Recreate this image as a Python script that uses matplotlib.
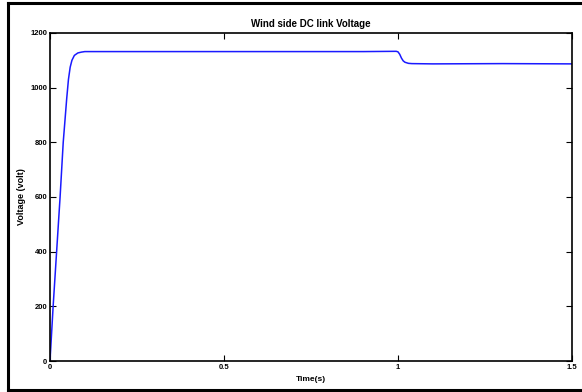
import matplotlib
matplotlib.use("Agg")
import matplotlib.pyplot as plt
from matplotlib.lines import Line2D

# DC link voltage trace (time in s, volts)
t_s = [0.0, 0.009, 0.019, 0.029, 0.038, 0.043, 0.048, 0.053, 0.058, 0.063,
       0.07, 0.08, 0.09, 0.1, 0.3, 0.6, 0.9, 0.995, 1.0, 1.005, 1.01,
       1.015, 1.02, 1.03, 1.04, 1.1, 1.3, 1.5]
volts = [0, 200, 400, 600, 800, 880, 960, 1030, 1075, 1100,
         1118, 1127, 1130, 1132, 1132, 1132, 1132, 1133, 1131, 1122, 1108,
         1098, 1093, 1089, 1088, 1087, 1088, 1087]

xticks = [0, 0.5, 1, 1.5]
xtick_labels = ["0", "0.5", "1", "1.5"]
yticks = [0, 200, 400, 600, 800, 1000, 1200]

plt.rcParams["font.family"] = ["Liberation Sans", "DejaVu Sans"]
plt.rcParams["font.weight"] = "bold"

fig = plt.figure(figsize=(5.82, 3.92), dpi=100)
W, H = 582, 392
ax = fig.add_axes([50 / W, 1 - 361 / H, (572 - 50) / W, (361 - 33) / H])

ax.plot(t_s, volts, color="#1a1aff", lw=1.1)

ax.set_xlim(0, 1.5)
ax.set_ylim(0, 1200)
ax.set_xticks(xticks)
ax.set_xticklabels(xtick_labels)
ax.set_yticks(yticks)
ax.tick_params(direction="in", length=4, width=0.8, labelsize=5.5,
               top=True, right=True, pad=2)
for lbl in ax.get_xticklabels() + ax.get_yticklabels():
    lbl.set_fontweight("bold")
for s in ax.spines.values():
    s.set_linewidth(1.2)

ax.set_title("Wind side DC link Voltage", fontsize=7, fontweight="bold", pad=4)
ax.set_xlabel("Time(s)", fontsize=6, fontweight="bold", labelpad=4)
ax.set_ylabel("Voltage (volt)", fontsize=6.5, fontweight="bold", labelpad=3)

# outer frame: left, top and bottom edges (right edge is off the image)
x0, y0, y1 = 8 / W, 1 - 390 / H, 1 - 3 / H
for xs, ys in [([x0, x0], [y0, y1]), ([x0, 1.0], [y1, y1]), ([x0, 1.0], [y0, y0])]:
    fig.add_artist(Line2D(xs, ys, transform=fig.transFigure, color="black",
                          lw=2.2, solid_capstyle="projecting"))

fig.savefig("out.png", dpi=100)
